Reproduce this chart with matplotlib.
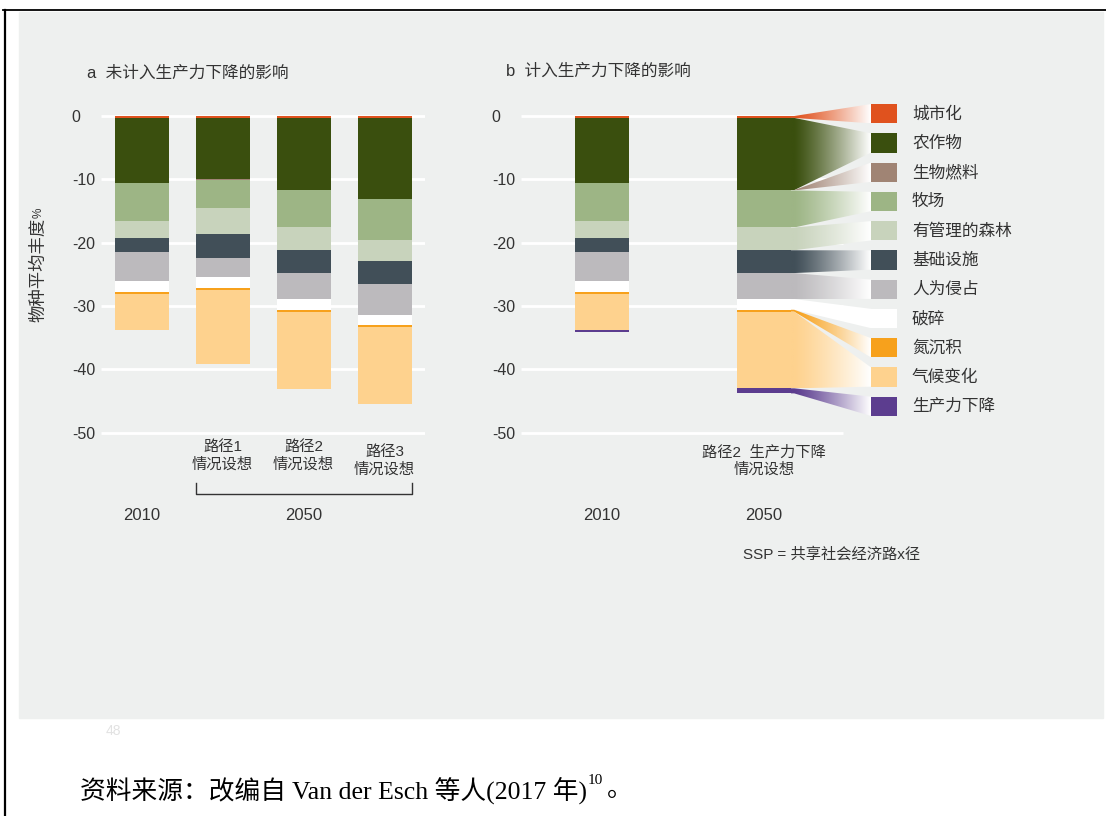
import numpy as np
import matplotlib
matplotlib.use("Agg")
import matplotlib.pyplot as plt
import matplotlib.transforms as mtransforms
from matplotlib.patches import Rectangle, Polygon
from matplotlib.lines import Line2D
from matplotlib.colors import to_rgb

W, H = 1106, 816
plt.rcParams['font.family'] = ['Liberation Sans', 'Noto Sans CJK SC']
TXT = '#333333'
BG = '#eef0ef'

drivers = ["城市化", "农作物", "生物燃料", "牧场", "有管理的森林", "基础设施",
           "人为侵占", "破碎", "氮沉积", "气候变化", "生产力下降"]
colors = ["#e0521e", "#3a4f0e", "#a08474", "#9db585", "#c8d3bc", "#414f58",
          "#bcbabd", "#ffffff", "#f7a11c", "#fed28e", "#5c3d8f"]

# panel a: 2010, SSP1, SSP2, SSP3 (loss in MSA %, per driver)
a_names = ["", "路径1\n情况设想", "路径2\n情况设想", "路径3\n情况设想"]
a_urban = [0.3, 0.3, 0.3, 0.3]
a_crops = [10.3, 9.7, 11.4, 12.75]
a_bio = [0.0, 0.05, 0.05, 0.05]
a_pasture = [6.0, 4.55, 5.85, 6.5]
a_forest = [2.6, 4.1, 3.6, 3.3]
a_infra = [2.2, 3.7, 3.6, 3.7]
a_encroach = [4.7, 3.0, 4.1, 4.9]
a_frag = [1.7, 1.8, 1.7, 1.5]
a_nitrogen = [0.3, 0.3, 0.3, 0.3]
a_climate = [5.7, 11.6, 12.2, 12.2]
a_prod = [0.0, 0.0, 0.0, 0.0]

# panel b: 2010, SSP2 with productivity decline
b_urban = [0.3, 0.3]
b_crops = [10.3, 11.4]
b_bio = [0.0, 0.05]
b_pasture = [6.0, 5.85]
b_forest = [2.6, 3.6]
b_infra = [2.2, 3.6]
b_encroach = [4.7, 4.1]
b_frag = [1.7, 1.7]
b_nitrogen = [0.3, 0.3]
b_climate = [5.7, 12.1]
b_prod = [0.35, 0.8]

yticks = [0, -10, -20, -30, -40, -50]

PXU = 6.333   # pixels per unit on y
Y0 = 116      # pixel of y=0
XU = 81       # pixels per bar slot
BW = 54 / XU


def fx(px):
    return px / W


def fy(py):
    return 1 - py / H


fig = plt.figure(figsize=(W / 100, H / 100), dpi=100)
fig.patch.set_facecolor('white')
fig.add_artist(Rectangle((fx(19), fy(718)), (1103 - 19) / W, (718 - 12) / H,
                         transform=fig.transFigure, color=BG, zorder=-5))
fig.add_artist(Line2D([fx(3), 1], [fy(10), fy(10)], color='black', lw=1.3))
fig.add_artist(Line2D([fx(5), fx(5)], [fy(10), 0], color='black', lw=1.6))

ytop, ybot = 2, -53
ptop, pbot = Y0 - ytop * PXU, Y0 - ybot * PXU


def make_ax(left_px, right_px, xmin):
    ax = fig.add_axes([fx(left_px), fy(pbot), (right_px - left_px) / W, (pbot - ptop) / H])
    ax.set_facecolor('none')
    for s in ax.spines.values():
        s.set_visible(False)
    ax.set_xlim(xmin, xmin + (right_px - left_px) / XU)
    ax.set_ylim(ybot, ytop)
    ax.set_xticks([])
    ax.set_yticks(yticks)
    ax.set_yticklabels([str(t) for t in yticks])
    ax.tick_params(axis='y', length=0, pad=21, labelsize=11.5, labelcolor=TXT)
    for lab in ax.get_yticklabels():
        lab.set_ha('left')
    return ax


def stack(ax, xs, series):
    cum = np.zeros(len(xs))
    edges = [cum.copy()]
    for vals, c in zip(series, colors):
        v = np.array(vals, dtype=float)
        ax.bar(xs, -v, bottom=-cum, width=BW, color=c, linewidth=0, zorder=2)
        cum = cum + v
        edges.append(cum.copy())
    return edges


# ---------- panel a ----------
axa = make_ax(101, 425, -0.5)
xa = np.arange(4)
axa.hlines(yticks, -0.5, 3.5, color='white', lw=2, zorder=1)
stack(axa, xa, [a_urban, a_crops, a_bio, a_pasture, a_forest, a_infra,
                a_encroach, a_frag, a_nitrogen, a_climate, a_prod])

ta = mtransforms.blended_transform_factory(axa.transData, fig.transFigure)
for i, name in enumerate(a_names):
    if name:
        yy = 461 if i == 3 else 456
        axa.text(xa[i], fy(yy), name, transform=ta, ha='center', va='center',
                 fontsize=11, color=TXT, linespacing=1.3)
axa.plot([1 - BW / 2, 1 - BW / 2, 3 + BW / 2, 3 + BW / 2], [fy(483), fy(494), fy(494), fy(483)],
         transform=ta, color=TXT, lw=1, clip_on=False)
axa.text(xa[0], fy(515), "2010", transform=ta, ha='center', va='center', fontsize=12, color=TXT)
axa.text(xa[2], fy(515), "2050", transform=ta, ha='center', va='center', fontsize=12, color=TXT)
fig.text(fx(87), fy(73), "a  未计入生产力下降的影响", ha='left', va='center', fontsize=12, color=TXT)

# ---------- panel b ----------
axb = make_ax(521, 1103, -1.0)
xb = np.array([0, 2])
axb.hlines(yticks, -1.0, 2.975, color='white', lw=2, zorder=1)
edges = stack(axb, xb, [b_urban, b_crops, b_bio, b_pasture, b_forest, b_infra,
                        b_encroach, b_frag, b_nitrogen, b_climate, b_prod])

# ribbons from the 2050 bar to the legend
x0 = xb[1] + BW / 2
x1 = x0 + 0.04
x2 = x0 + (871 - 791) / XU
bx1 = x2 + 26 / XU
yc0 = -(113.7 - Y0) / PXU
dyc = 29.26 / PXU
hh = 9.65 / PXU
xs = np.linspace(x0, x2, 300)
t = np.clip((xs - x1) / (x2 - x1), 0, 1) ** 1.2
for k, (name, c) in enumerate(zip(drivers, colors)):
    top = -edges[k][1]
    bot = -edges[k + 1][1]
    yc = yc0 - k * dyc
    poly = Polygon([(x0, top), (x1, top), (x2, yc + hh), (x2, yc - hh), (x1, bot), (x0, bot)],
                   closed=True, facecolor='none', edgecolor='none')
    axb.add_patch(poly)
    rgb = np.array(to_rgb(c))
    img = rgb[None, None, :] * (1 - t[None, :, None]) + t[None, :, None]
    im = axb.imshow(img, extent=[x0, x2, min(bot, yc - hh), max(top, yc + hh)],
                    aspect='auto', interpolation='bilinear', zorder=3)
    im.set_clip_path(poly)
    axb.add_patch(Rectangle((x2, yc - hh), bx1 - x2, 2 * hh, facecolor=c,
                            edgecolor='none', zorder=3, clip_on=False))
    axb.text(x2 + (912 - 871) / XU, yc, name, ha='left', va='center', fontsize=12,
             color=TXT, clip_on=False)

axb.set_xlim(-1.0, -1.0 + (1103 - 521) / XU)
axb.set_ylim(ybot, ytop)

tb = mtransforms.blended_transform_factory(axb.transData, fig.transFigure)
axb.text(xb[1], fy(461), "路径2  生产力下降\n情况设想", transform=tb, ha='center', va='center',
         fontsize=11, color=TXT, linespacing=1.3)
axb.text(xb[0], fy(515), "2010", transform=tb, ha='center', va='center', fontsize=12, color=TXT)
axb.text(xb[1], fy(515), "2050", transform=tb, ha='center', va='center', fontsize=12, color=TXT)
fig.text(fx(743), fy(555), "SSP = 共享社会经济路x径", ha='left', va='center', fontsize=11, color=TXT)
fig.text(fx(506), fy(71), "b  计入生产力下降的影响", ha='left', va='center', fontsize=12, color=TXT)

# y label
fig.text(fx(38), fy(270), "物种平均丰度", rotation=90, ha='center', va='center', fontsize=12.5, color=TXT)
fig.text(fx(39), fy(213), "%", rotation=90, ha='center', va='center', fontsize=8.5, color=TXT)

# page footer
fig.text(fx(113), fy(731), "48", ha='center', va='center', fontsize=10, color='#e2e2e2')
serif = ['Liberation Serif', 'Noto Sans CJK SC']
src = fig.text(fx(80), fy(790), "资料来源：改编自 Van der Esch 等人(2017 年)", family=serif,
               ha='left', va='center', fontsize=18.5, color='black')
r = fig.canvas.get_renderer()
bb = src.get_window_extent(r)
sup = fig.text(bb.x1 / W + 0.0005, fy(780), "10", family=serif, ha='left', va='center',
               fontsize=11, color='black')
bb2 = sup.get_window_extent(r)
fig.text(bb2.x1 / W + 0.004, fy(790), "。", family=serif, ha='left', va='center', fontsize=18.5, color='black')

fig.savefig("out.png", dpi=100)
